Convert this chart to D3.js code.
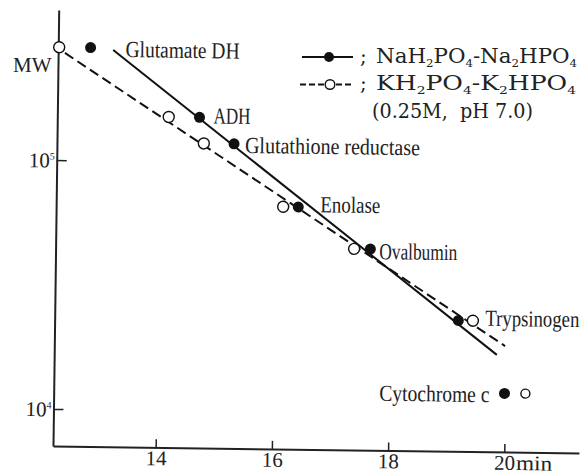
<!DOCTYPE html>
<html>
<head>
<meta charset="utf-8">
<script src="https://cdn.jsdelivr.net/npm/d3@7"></script>
<style>
  body { margin: 0; background: #fff; }
  text { font-family: "Liberation Serif", "DejaVu Serif", serif; fill: #222; }
</style>
</head>
<body>
<div id="chart"></div>
<script>
// protein standards, elution time (min)
var proteins = ["Glutamate DH", "ADH", "Glutathione reductase", "Enolase", "Ovalbumin", "Trypsinogen", "Cytochrome c"];
var molWeight = [284000, 151000, 118700, 66700, 45600, 23800, 12200];
var naTime = [12.79, 14.68, 15.28, 16.40, 17.65, 19.18, 19.99];   // NaH2PO4-Na2HPO4 (filled)
var kTime = [12.25, 14.15, 14.76, 16.14, 17.37, 19.43, 20.35];    // KH2PO4-K2HPO4 (open)

// calibration lines (end points)
var naLine = [{t: 13.18, mw: 278600}, {t: 19.85, mw: 17400}];
var kLine = [{t: 12.35, mw: 269500}, {t: 19.99, mw: 18900}];

var xTicks = [14, 16, 18, 20];
var yTicks = [1e4, 1e5];
var yTickExp = ["4", "5"];

var width = 587, height = 476;

var svg = d3.select("#chart").append("svg")
    .attr("width", width)
    .attr("height", height);

// the scanned figure is turned a little clockwise
var g = svg.append("g").attr("transform", "rotate(0.75,53,446)");

// set the ranges
var x = d3.scaleLinear().domain([12.233, 21.285]).range([53, 579]);
var y = d3.scaleLog().domain([7100, 400500]).range([446, 10]);

// X axis, ticks pointing up
var xAxis = g.append("g")
    .attr("transform", "translate(0," + y(7100) + ")")
    .call(d3.axisBottom(x).tickValues(xTicks).tickSizeInner(-8).tickSizeOuter(0).tickPadding(3));
xAxis.select(".domain").attr("stroke", "#222").attr("stroke-width", 2);
xAxis.selectAll(".tick line").attr("stroke", "#222").attr("stroke-width", 1.5);
xAxis.selectAll(".tick text")
    .style("font-family", "Liberation Serif")
    .style("font-size", "21px")
    .attr("fill", "#222");

g.append("text")
    .attr("x", x(20) + 12)
    .attr("y", 464)
    .attr("textLength", 36)
    .attr("lengthAdjust", "spacingAndGlyphs")
    .style("font-size", "21px")
    .text("min");

// Y axis, ticks pointing right
var yAxis = g.append("g")
    .attr("transform", "translate(" + x.range()[0] + ",0)")
    .call(d3.axisLeft(y).tickValues(yTicks).tickSizeInner(-10).tickSizeOuter(0).tickFormat(""));
yAxis.select(".domain").attr("stroke", "#222").attr("stroke-width", 2);
yAxis.selectAll(".tick line").attr("stroke", "#222").attr("stroke-width", 1.5);

yTicks.forEach(function (v, i) {
    var t = g.append("text")
        .attr("x", x.range()[0] - 2)
        .attr("y", y(v) + 7.5)
        .attr("text-anchor", "end")
        .style("font-size", "21px");
    t.append("tspan").text("10");
    t.append("tspan").attr("dy", -8).style("font-size", "10px").text(yTickExp[i]);
});

// define the lines
var line = d3.line()
    .x(function (d) { return x(d.t); })
    .y(function (d) { return y(d.mw); });

g.append("path")
    .attr("d", line(naLine))
    .attr("fill", "none")
    .attr("stroke", "#111")
    .attr("stroke-width", 2);

g.append("path")
    .attr("d", line(kLine))
    .attr("fill", "none")
    .attr("stroke", "#111")
    .attr("stroke-width", 2)
    .attr("stroke-dasharray", "10,5");

// points
var pts = proteins.map(function (p, i) {
    return {name: p, mw: molWeight[i], na: naTime[i], k: kTime[i]};
});

g.selectAll(".kdot")
    .data(pts)
    .enter().append("circle")
    .attr("cx", function (d) { return x(d.k); })
    .attr("cy", function (d) { return y(d.mw); })
    .attr("r", function (d, i) { return i == 6 ? 4.5 : 5.5; })
    .attr("fill", "#fff")
    .attr("stroke", "#111")
    .attr("stroke-width", 1.4);

g.selectAll(".nadot")
    .data(pts)
    .enter().append("circle")
    .attr("cx", function (d) { return x(d.na); })
    .attr("cy", function (d) { return y(d.mw); })
    .attr("r", 5.5)
    .attr("fill", "#111");

// labels next to the filled points, squeezed sideways like the printed face
var labelDx = [35, 14, 11, 22, 9, 27, -15];
var labelDy = [9, 6, 9, 5, 10, 5, 9];
var labelW = [114, 37, 175, 60, 78, 94, 110];

pts.forEach(function (d, i) {
    var lg = g.append("g");
    var t = lg.append("text")
        .style("font-size", "23px")
        .text(d.name);
    var sx = labelW[i] / t.node().getComputedTextLength();
    var x0 = x(d.na) + labelDx[i] - (labelDx[i] < 0 ? labelW[i] : 0);
    lg.attr("transform", "translate(" + x0 + "," + (y(d.mw) + labelDy[i]) + ") scale(" + sx + ",1)");
});

svg.append("text")
    .attr("x", 13)
    .attr("y", 72)
    .style("font-size", "21px")
    .text("MW");

// legend
var leg = svg.append("g");
leg.append("line").attr("x1", 302).attr("x2", 353).attr("y1", 57).attr("y2", 57)
    .attr("stroke", "#111").attr("stroke-width", 2.2);
leg.append("circle").attr("cx", 329).attr("cy", 57).attr("r", 5).attr("fill", "#111");
leg.append("line").attr("x1", 300).attr("x2", 353).attr("y1", 84.5).attr("y2", 84.5)
    .attr("stroke", "#111").attr("stroke-width", 2).attr("stroke-dasharray", "6,3");
leg.append("circle").attr("cx", 330).attr("cy", 84.5).attr("r", 4.8)
    .attr("fill", "#fff").attr("stroke", "#111").attr("stroke-width", 1.4);

// formula text with subscripts: parts are [text, isSub]
function chem(sel, xx, yy, w, parts) {
    var t = sel.append("text").attr("x", xx).attr("y", yy)
        .style("font-family", "DejaVu Serif")
        .style("font-size", "20px")
        .attr("textLength", w)
        .attr("lengthAdjust", "spacingAndGlyphs");
    var shift = 0;
    parts.forEach(function (p) {
        var want = p[1] ? 4 : 0;
        t.append("tspan")
            .attr("dy", want - shift)
            .style("font-size", p[1] ? "11px" : "20px")
            .text(p[0]);
        shift = want;
    });
    return t;
}

leg.append("text").attr("x", 360).attr("y", 62.7).style("font-family", "DejaVu Serif").style("font-size", "20px").text(";");
leg.append("text").attr("x", 360).attr("y", 90).style("font-family", "DejaVu Serif").style("font-size", "20px").text(";");
chem(leg, 376, 62.7, 201, [["NaH"], ["2", 1], ["PO"], ["4", 1], ["-Na"], ["2", 1], ["HPO"], ["4", 1]]);
chem(leg, 376, 90, 200, [["KH"], ["2", 1], ["PO"], ["4", 1], ["-K"], ["2", 1], ["HPO"], ["4", 1]]);
leg.append("text").attr("x", 372).attr("y", 118)
    .style("font-family", "DejaVu Serif").style("font-size", "20px")
    .style("white-space", "pre")
    .attr("textLength", 161).attr("lengthAdjust", "spacingAndGlyphs")
    .text("(0.25M,  pH 7.0)");
</script>
</body>
</html>
